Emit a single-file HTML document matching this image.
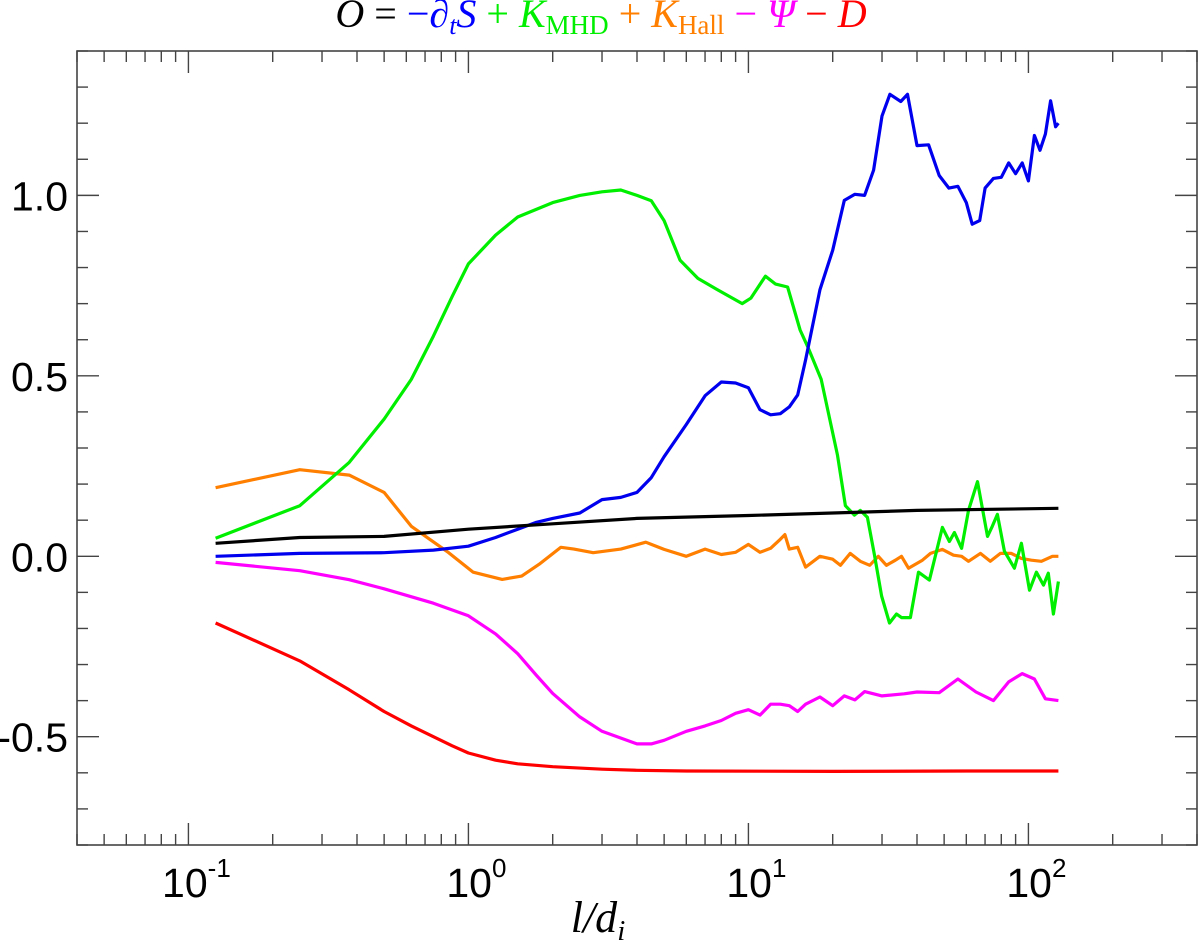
<!DOCTYPE html>
<html><head><meta charset="utf-8"><style>
html,body{margin:0;padding:0;background:#fff;}
svg{display:block;}
</style></head><body>
<svg id="chart" width="1200" height="941" viewBox="0 0 1200 941" xmlns="http://www.w3.org/2000/svg">
<text x="601" y="27" text-anchor="middle" font-family="Liberation Serif, serif" font-size="40"><tspan font-style="italic" fill="#000">O</tspan><tspan fill="#000"> = </tspan><tspan fill="#0000ff">−<tspan font-style="italic">∂</tspan><tspan font-style="italic" font-size="26" dy="7">t</tspan><tspan font-style="italic" dy="-7">S</tspan></tspan><tspan fill="#00ee00"> + <tspan font-style="italic">K</tspan><tspan font-size="27" dy="7">MHD</tspan></tspan><tspan fill="#ff7f00" dy="-7"> + <tspan font-style="italic">K</tspan><tspan font-size="27" dy="7">Hall</tspan></tspan><tspan fill="#ff00ff" dy="-7"> − <tspan font-style="italic">Ψ</tspan></tspan><tspan fill="#ff0000"> − <tspan font-style="italic">D</tspan></tspan></text>
<g id="axes"></g>
<g id="series"></g>
<text x="598" y="932" text-anchor="middle" font-family="Liberation Serif, serif" font-size="44" font-style="italic">l/d<tspan font-size="29" dy="8">i</tspan></text>
</svg>
<script>
const xDomain = [0.04, 400];
const yDomain = [-0.8, 1.4];
const xMajorTicks = [0.1, 1, 10, 100];
const xTickExponents = ["-1", "0", "1", "2"];
const yMajorTicks = [-0.5, 0.0, 0.5, 1.0];
const yTickLabels = ["-0.5", "0.0", "0.5", "1.0"];

const blackL = [0.125,0.25,0.5,1,2,4,10,20,40,128];
const blackV = [0.036,0.052,0.055,0.075,0.09,0.105,0.113,0.12,0.127,0.133];

const redL = [0.125,0.25,0.375,0.5,0.625,0.75,0.875,1,1.25,1.5,2,3,4,6,20,60,128];
const redV = [-0.185,-0.29,-0.37,-0.43,-0.47,-0.50,-0.525,-0.545,-0.565,-0.575,-0.583,-0.59,-0.593,-0.595,-0.596,-0.595,-0.595];

const magentaL = [0.125,0.25,0.375,0.5,0.75,1,1.25,1.5,1.75,2,2.5,3,4,4.5,5,6,7,8,9,10,11,12,13,14,15,16,18,20,22,24,26,30,36,40,48,56,65,75,85,95,105,115,128];
const magentaV = [-0.017,-0.04,-0.065,-0.09,-0.13,-0.165,-0.215,-0.27,-0.33,-0.38,-0.445,-0.485,-0.52,-0.52,-0.51,-0.485,-0.47,-0.455,-0.435,-0.425,-0.44,-0.41,-0.41,-0.414,-0.43,-0.41,-0.39,-0.414,-0.387,-0.398,-0.375,-0.387,-0.381,-0.376,-0.378,-0.34,-0.376,-0.40,-0.348,-0.325,-0.34,-0.395,-0.40];

const blueL = [0.125,0.25,0.5,0.75,1,1.25,1.5,1.75,2,2.5,3,3.5,4,4.5,5,6,7,8,9,10,11,12,13,14,15,16,18,20,22,24,26,28,30,32,35,37,40,44,48,52,56,60,63,67,70,75,80,85,90,95,100,105,110,115,120,125,128];
const blueV = [0,0.008,0.01,0.017,0.028,0.052,0.075,0.094,0.105,0.12,0.157,0.163,0.177,0.218,0.276,0.365,0.445,0.483,0.48,0.467,0.406,0.392,0.395,0.414,0.447,0.544,0.738,0.848,0.986,1.003,1.0,1.07,1.22,1.28,1.26,1.28,1.138,1.14,1.055,1.02,1.025,0.98,0.92,0.93,1.02,1.047,1.05,1.09,1.06,1.09,1.04,1.166,1.125,1.17,1.262,1.19,1.2];

const greenL = [0.125,0.25,0.375,0.5,0.625,0.75,0.875,1,1.25,1.5,2,2.5,3,3.5,4,4.5,5,5.7,6.6,7.7,9.5,10.2,11.5,12.5,13.8,15.3,16.3,18.2,19.2,20.8,22.2,23.9,25.1,26.6,28.2,29.9,31.9,33.8,35.2,37.9,40.5,44.3,49.3,52.2,54.4,57.7,61.1,65.8,71.4,74.3,77.5,82.1,89.1,94.4,100.9,106.8,113.2,117.8,122.8,128];
const greenV = [0.05,0.14,0.26,0.38,0.49,0.61,0.72,0.81,0.89,0.94,0.98,1.0,1.01,1.015,1.0,0.985,0.93,0.82,0.77,0.74,0.70,0.715,0.776,0.754,0.746,0.627,0.58,0.49,0.406,0.28,0.14,0.114,0.127,0.108,0.003,-0.11,-0.185,-0.16,-0.17,-0.17,-0.044,-0.066,0.08,0.041,0.066,0.022,0.127,0.207,0.055,0.083,0.116,0.014,-0.033,0.036,-0.094,-0.044,-0.08,-0.047,-0.16,-0.07];

const orangeL = [0.125,0.25,0.375,0.5,0.625,0.85,1.04,1.32,1.55,1.79,2.14,2.38,2.79,3.5,4.3,4.5,5,6,7,8,9,10,11,12,13,13.5,14,15,16,18,20,21.3,23.1,25.1,27.1,29.1,31.1,33.5,35.2,37.3,41.8,44.7,49.3,54,57.7,61.1,67.4,73.1,79.4,86.9,94.4,102.5,111.3,121.8,128];
const orangeV = [0.19,0.24,0.225,0.177,0.083,0.01,-0.044,-0.064,-0.055,-0.022,0.025,0.02,0.01,0.02,0.039,0.033,0.019,0.0,0.02,0.005,0.011,0.033,0.011,0.022,0.047,0.06,0.02,0.025,-0.03,0.0,-0.008,-0.025,0.008,-0.014,-0.025,0.0,-0.025,-0.011,0.0,-0.033,-0.011,0.008,0.019,0.003,0.0,-0.014,0.008,-0.014,0.008,0.008,-0.006,-0.011,-0.014,0.0,0.0];

const plotLeft = 77, plotRight = 1197, plotTop = 51, plotBottom = 845;
const NS = "http://www.w3.org/2000/svg";
function xScale(v){ const a=Math.log10(xDomain[0]), b=Math.log10(xDomain[1]); return plotLeft + (Math.log10(v)-a)/(b-a)*(plotRight-plotLeft); }
function yScale(v){ return plotBottom - (v-yDomain[0])/(yDomain[1]-yDomain[0])*(plotBottom-plotTop); }
function mk(tag, attrs, parent){ const e=document.createElementNS(NS,tag); for(const k in attrs) e.setAttribute(k,attrs[k]); parent.appendChild(e); return e; }

const axes = document.getElementById('axes');
const frame = mk('rect',{x:plotLeft,y:plotTop,width:plotRight-plotLeft,height:plotBottom-plotTop,fill:'none',stroke:'#444','stroke-width':1.6},axes);



for(let d=-2; d<=2; d++){
  for(let m=1; m<=9; m++){
    const v = m*Math.pow(10,d);
    if(v < xDomain[0]-1e-9 || v > xDomain[1]+1e-9) continue;
    const x = xScale(v);
    const len = m===1 ? 22 : 11;
    const t1 = mk('line',{x1:x,x2:x,y1:plotBottom,y2:plotBottom-len,stroke:'#444','stroke-width':1.4},axes);
    
    
    const t2 = mk('line',{x1:x,x2:x,y1:plotTop,y2:plotTop+len,stroke:'#444','stroke-width':1.4},axes);
    
    
  }
}
xMajorTicks.forEach((v,i)=>{
  const x = xScale(v);
  const t = mk('text',{x:x+8,y:897,'text-anchor':'middle','font-family':'Liberation Sans, sans-serif','font-size':41},axes);
  
  
  t.innerHTML = '10<tspan font-size="26" dy="-20">'+xTickExponents[i]+'</tspan>';
});
for(let k=-8; k<=14; k++){
  const v = k/10;
  const y = yScale(v);
  const major = (k % 5 === 0);
  const len = major ? 22 : 11;
  const a = mk('line',{x1:plotLeft,x2:plotLeft+len,y1:y,y2:y,stroke:'#444','stroke-width':1.4},axes);
  
  
  const b = mk('line',{x1:plotRight,x2:plotRight-len,y1:y,y2:y,stroke:'#444','stroke-width':1.4},axes);
  
  
}
yMajorTicks.forEach((v,i)=>{
  const t = mk('text',{x:68,y:yScale(v)+15,'text-anchor':'end','font-family':'Liberation Sans, sans-serif','font-size':41},axes);
  
  
  t.textContent = yTickLabels[i];
});

const series = document.getElementById('series');
function drawLine(L, V, color, name){
  const d = L.map((l,i)=>(i?'L':'M')+xScale(l).toFixed(1)+','+yScale(V[i]).toFixed(1)).join(' ');
  const p = mk('path',{d:d,fill:'none',stroke:color,'stroke-width':3.2,'stroke-linejoin':'round'},series);
  
  
}
drawLine(redL, redV, '#ff0000', 'series-d-line');
drawLine(magentaL, magentaV, '#ff00ff', 'series-psi-line');
drawLine(orangeL, orangeV, '#ff7f00', 'series-k-hall-line');
drawLine(greenL, greenV, '#00ee00', 'series-k-mhd-line');
drawLine(blueL, blueV, '#0000ee', 'series-dts-line');
drawLine(blackL, blackV, '#000000', 'series-o-line');
</script>
</body></html>
